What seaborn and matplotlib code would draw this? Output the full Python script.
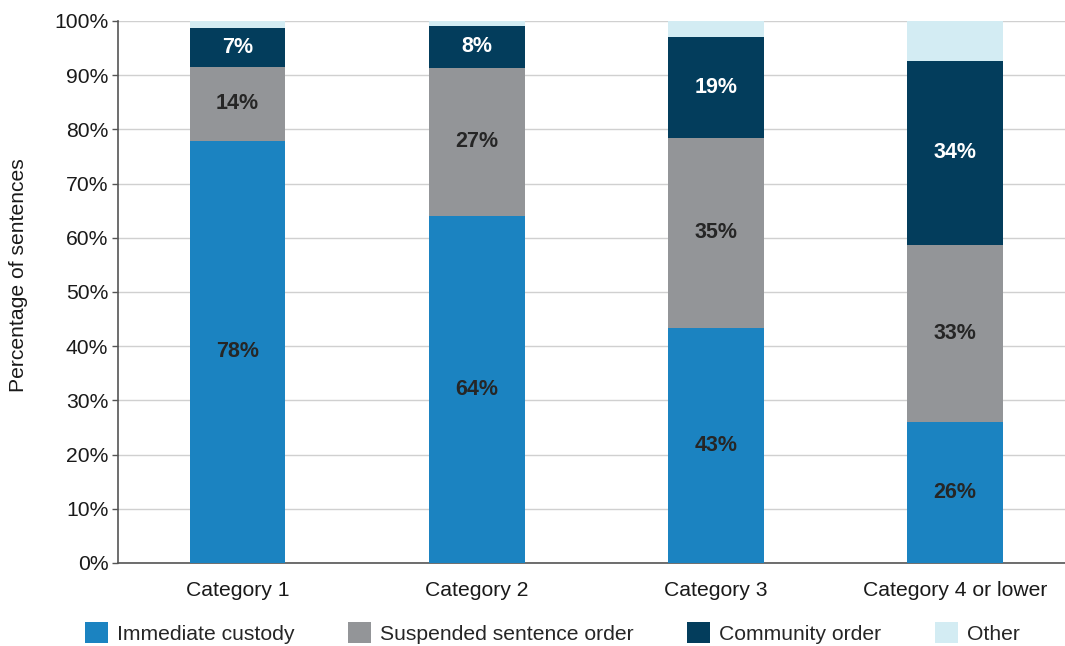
import numpy as np
import pandas as pd
import matplotlib
matplotlib.use("Agg")
import matplotlib.pyplot as plt
import seaborn as sns
from matplotlib.patches import Patch
from matplotlib.ticker import PercentFormatter

# データ
categories = ["Category 1", "Category 2", "Category 3", "Category 4 or lower"]
immediate = [77.9, 64.1, 43.4, 26.1]
suspended = [13.7, 27.3, 35.1, 32.6]
community = [7.1, 7.7, 18.6, 33.9]
other = [1.3, 0.9, 2.9, 7.4]

series_names = ["Immediate custody", "Suspended sentence order", "Community order", "Other"]
colors = ["#1b83c1", "#939598", "#033d5c", "#d3ecf3"]
label_colors = ["#262626", "#262626", "white", None]

sns.set_style("white")
plt.rcParams["font.family"] = ["Liberation Sans", "DejaVu Sans"]

FS = 15.2

fig = plt.figure(figsize=(10.65, 6.46), dpi=100)
ax = fig.add_axes([0.1108, 0.1285, 0.8892, 0.839])

df = pd.DataFrame({"category": categories})
bottom = np.zeros(len(categories))
for name, vals, col, lc in zip(series_names,
                               [immediate, suspended, community, other],
                               colors, label_colors):
    vals = np.array(vals)
    df["value"] = vals
    sns.barplot(data=df, x="category", y="value", bottom=bottom, color=col,
                width=0.4, ax=ax, saturation=1, edgecolor="none", linewidth=0,
                zorder=3)
    if lc is not None:
        for i, v in enumerate(vals):
            ax.text(i, bottom[i] + v / 2, f"{round(v):.0f}%", ha="center",
                    va="center", fontsize=15.5, fontweight="bold", color=lc,
                    zorder=4)
    bottom = bottom + vals

ax.set_ylim(0, 100)
ax.set_xlim(-0.5, 3.46)
ax.set_yticks(np.arange(0, 101, 10))
ax.yaxis.set_major_formatter(PercentFormatter(decimals=0))
ax.grid(axis="y", color="#d0d0d0", linewidth=1, zorder=0)
ax.set_axisbelow(True)

# x軸：カテゴリ間に目盛り
ax.set_xticks([0.5, 1.5, 2.5], minor=False)
ax.set_xticklabels([])
ax.set_xticks(range(len(categories)), minor=True)
ax.set_xticklabels(categories, minor=True)
ax.tick_params(axis="x", which="minor", length=0, labelsize=FS, pad=13,
               colors="#1a1a1a")
ax.tick_params(axis="x", which="major", length=7, direction="out",
               color="#555555", width=1)
ax.tick_params(axis="y", length=4.5, direction="out", color="#555555",
               labelsize=FS, labelcolor="#1a1a1a", width=1, left=True, pad=2.5)

for s in ["top", "right"]:
    ax.spines[s].set_visible(False)
for s in ["left", "bottom"]:
    ax.spines[s].set_color("#555555")
    ax.spines[s].set_linewidth(1.2)

ax.set_xlabel("")
ax.set_ylabel("Percentage of sentences", fontsize=FS, color="#1a1a1a")
ax.yaxis.set_label_coords(-0.095, 0.531)

handles = [Patch(facecolor=c, edgecolor="none") for c in colors]
fig.legend(handles, series_names, loc="center left",
           bbox_to_anchor=(0.072, 13 / 646), ncol=4, frameon=False,
           fontsize=FS, handlelength=1.1, handleheight=1.1,
           handletextpad=0.4, columnspacing=2.55, borderaxespad=0)

fig.savefig("out.png", dpi=100)
